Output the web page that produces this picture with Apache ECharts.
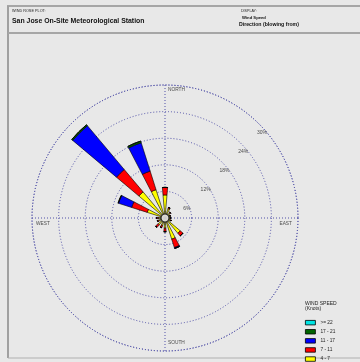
<!DOCTYPE html>
<html>
<head>
<meta charset="utf-8">
<script src="https://cdn.jsdelivr.net/npm/echarts@6/dist/echarts.min.js"></script>
<style>
html,body{margin:0;padding:0;background:#e8e8e8;}
#c{width:360px;height:362px;}
</style>
</head>
<body>
<div id="c"></div>
<script>
// ---- data ----
const directions = ['N','NNE','NE','ENE','E','ESE','SE','SSE','S','SSW','SW','WSW','W','WNW','NW','NNW'];
const speedBins = ['4 - 7','7 - 11','11 - 17','17 - 21','>= 22'];
const legendOrder = ['>= 22','17 - 21','11 - 17','7 - 11','4 - 7'];
// percent frequency per direction (stacked, inner to outer)
const speed4to7   = [5.2, 2.2, 1.5, 1.2, 1.2, 1.3, 4.5, 5.0, 2.3, 1.8, 2.0, 1.5, 1.5, 4.2, 7.7, 6.7];
const speed7to11  = [1.7, 0.3, 0.2, 0.1, 0.1, 0.2, 0.8, 2.0, 0.8, 0.5, 0.8, 0.3, 0.4, 3.7, 6.6, 4.4];
const speed11to17 = [0,   0,   0,   0,   0,   0,   0,   0.2, 0,   0,   0,   0,   0,   3.1, 12.9, 6.7];
const speed17to21 = [0,   0,   0,   0,   0,   0,   0,   0,   0,   0,   0,   0,   0,   0.1, 0.3, 0.4];
const speed22plus = [0,   0,   0,   0,   0,   0,   0,   0,   0,   0,   0,   0,   0,   0,   0,   0];
const ringValues = [6, 12, 18, 24, 30];
const ringLabels = ['6%', '12%', '18%', '24%', '30%'];
const compassNames = ['NORTH', 'EAST', 'SOUTH', 'WEST'];
const compassBearings = [0, 90, 180, 270];

// ---- chart ----
const chart = echarts.init(document.getElementById('c'), null, {renderer: 'canvas'});
const colors = ['#ffff00', '#ff0000', '#0000ff', '#006400', '#00e5e5'];
const seriesData = [speed4to7, speed7to11, speed11to17, speed17to21, speed22plus];
const dotLine = {color: '#5050a8', width: 1, type: [1, 2]};
const txt = '#222';
const FONT = 'Liberation Sans, Arial, sans-serif';

const barSeries = speedBins.map((name, i) => ({
  name: name,
  type: 'bar',
  coordinateSystem: 'polar',
  polarIndex: 0,
  stack: 'wind',
  barWidth: '44%',
  data: seriesData[i],
  itemStyle: {color: colors[i], borderColor: '#000', borderWidth: 0.6},
  emphasis: {disabled: true},
  z: 3
}));

const compassLabelCfg = [
  {align: 'left', verticalAlign: 'middle', offset: [3, 5]},
  {align: 'right', verticalAlign: 'top', offset: [-6, 3]},
  {align: 'left', verticalAlign: 'middle', offset: [3, -8]},
  {align: 'left', verticalAlign: 'top', offset: [4, 3]}
];

const hiddenDot = {color: 'transparent', borderWidth: 0};

const option = {
  backgroundColor: '#e8e8e8',
  animation: false,
  textStyle: {fontFamily: FONT},
  title: [
    {text: 'WIND ROSE PLOT:', left: 12, top: 9, padding: 0, textStyle: {fontSize: 3.8, color: txt, fontWeight: 'normal', fontFamily: FONT}},
    {text: 'San Jose On-Site Meteorological Station', left: 12, top: 18, padding: 0, textStyle: {fontSize: 6.9, color: '#111', fontWeight: 'bold', fontFamily: FONT}},
    {text: 'DISPLAY:', left: 241, top: 9, padding: 0, textStyle: {fontSize: 3.6, color: txt, fontWeight: 'normal', fontFamily: FONT}},
    {text: 'Wind Speed', left: 242, top: 15.5, padding: 0, textStyle: {fontSize: 4.2, color: '#111', fontWeight: 'bold', fontFamily: FONT}},
    {text: 'Direction (blowing from)', left: 239, top: 22, padding: 0, textStyle: {fontSize: 5.2, color: '#111', fontWeight: 'bold', fontFamily: FONT}},
    {text: 'WIND SPEED', left: 305, top: 301, padding: 0, textStyle: {fontSize: 5, color: txt, fontWeight: 'normal', fontFamily: FONT}},
    {text: '(Knots)', left: 305, top: 306.5, padding: 0, textStyle: {fontSize: 5, color: txt, fontWeight: 'normal', fontFamily: FONT}}
  ],
  legend: {
    data: legendOrder,
    orient: 'vertical',
    left: 305,
    top: 320,
    height: 80,
    padding: 0,
    itemWidth: 10,
    itemHeight: 4.5,
    itemGap: 3.8,
    icon: 'rect',
    selectedMode: false,
    itemStyle: {borderColor: '#000', borderWidth: 0.8},
    textStyle: {fontSize: 4.8, color: txt, fontFamily: FONT}
  },
  graphic: [
    {type: 'line', shape: {x1: 7, y1: 6, x2: 360, y2: 6}, style: {stroke: '#a6a6a6', lineWidth: 2}, silent: true},
    {type: 'line', shape: {x1: 8, y1: 6, x2: 8, y2: 358}, style: {stroke: '#a0a0a0', lineWidth: 2}, silent: true},
    {type: 'line', shape: {x1: 8, y1: 33, x2: 360, y2: 33}, style: {stroke: '#a6a6a6', lineWidth: 2}, silent: true},
    {type: 'line', shape: {x1: 8, y1: 358, x2: 360, y2: 358}, style: {stroke: '#b0b0b0', lineWidth: 1}, silent: true}
  ],
  polar: [
    {center: [165, 218], radius: 133},
    {center: [165, 218], radius: 133}
  ],
  angleAxis: [
    {
      polarIndex: 0, type: 'category', data: directions,
      startAngle: 90 + 180 / directions.length, clockwise: true, boundaryGap: true,
      axisLine: {show: false}, axisTick: {show: false}, axisLabel: {show: false}, splitLine: {show: false}
    },
    {
      polarIndex: 1, type: 'value', min: 0, max: 360, interval: 90,
      startAngle: 90, clockwise: true,
      axisLine: {show: true, lineStyle: dotLine}, axisTick: {show: false}, axisLabel: {show: false},
      splitLine: {show: true, lineStyle: dotLine}
    }
  ],
  radiusAxis: [
    {
      polarIndex: 0, type: 'value', min: 0, max: 30, interval: 6,
      axisLine: {show: false}, axisTick: {show: false}, axisLabel: {show: false},
      splitLine: {show: true, lineStyle: dotLine}
    },
    {
      polarIndex: 1, type: 'value', min: 0, max: 30, interval: 6,
      axisLine: {show: false}, axisTick: {show: false}, axisLabel: {show: false},
      splitLine: {show: false}
    }
  ],
  series: barSeries.concat([
    {
      type: 'scatter', coordinateSystem: 'polar', polarIndex: 1,
      symbolSize: 8, silent: true, z: 6,
      itemStyle: {color: '#ffffff', borderColor: '#000', borderWidth: 1.2},
      data: [[0, 0]]
    },
    {
      type: 'scatter', coordinateSystem: 'polar', polarIndex: 1,
      symbolSize: 1, silent: true, z: 7,
      itemStyle: hiddenDot,
      data: ringValues.map((v, i) => ({
        value: [v, 45],
        label: {show: true, formatter: ringLabels[i], position: 'inside', offset: [3, 9],
                fontSize: 5, color: txt, fontFamily: FONT}
      }))
    },
    {
      type: 'scatter', coordinateSystem: 'polar', polarIndex: 1,
      symbolSize: 1, silent: true, z: 7,
      itemStyle: hiddenDot,
      data: compassNames.map((n, i) => ({
        value: [30, compassBearings[i]],
        label: Object.assign({show: true, formatter: n, position: 'inside',
                fontSize: 4.8, color: txt, fontFamily: FONT}, compassLabelCfg[i])
      }))
    }
  ])
};
chart.setOption(option);
</script>
</body>
</html>
